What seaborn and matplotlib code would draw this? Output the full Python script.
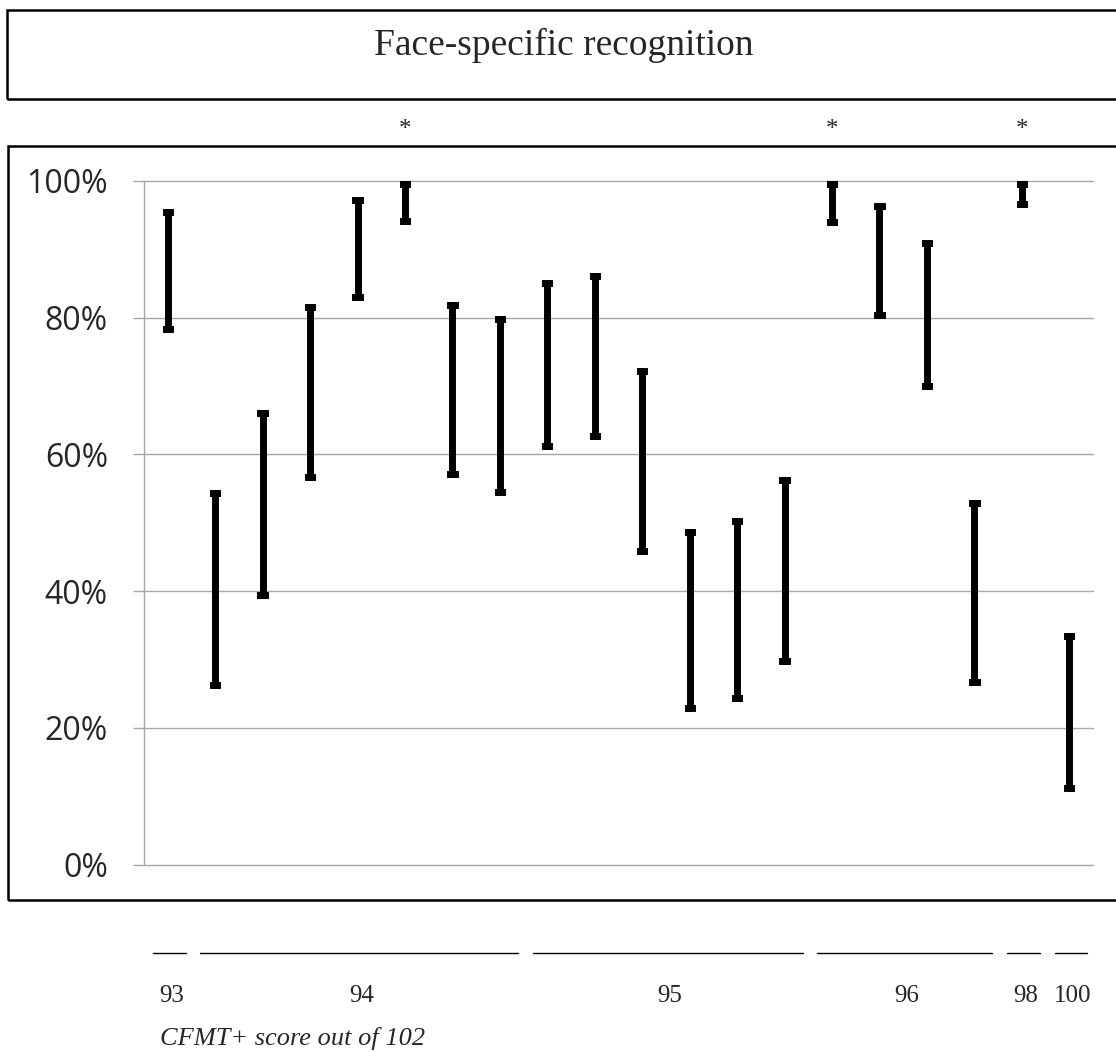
import numpy as np
import pandas as pd
import matplotlib
matplotlib.use("Agg")
import matplotlib.pyplot as plt
import matplotlib.transforms as mtransforms
from matplotlib.patches import Rectangle
import seaborn as sns

# ---------------- data ----------------
title = "Face-specific recognition"
bar_ids = [f"p{i}" for i in range(1, 21)]
low = [78.4, 26.2, 39.4, 56.7, 83.0, 94.1, 57.1, 54.5, 61.2, 62.7,
       45.9, 22.9, 24.3, 29.8, 94.0, 80.4, 70.0, 26.7, 96.6, 11.2]
high = [95.5, 54.3, 66.0, 81.5, 97.2, 99.6, 81.9, 79.8, 85.1, 86.1,
        72.2, 48.6, 50.2, 56.2, 99.5, 96.3, 91.0, 52.9, 99.5, 33.5]
group_labels = ["93", "94", "95", "96", "98", "100"]
group_sizes = [1, 7, 6, 4, 1, 1]
starred = [6, 15, 19]          # 1-based bar numbers marked with *
ytick_values = [0, 20, 40, 60, 80, 100]
ytick_labels = ["0%", "20%", "40%", "60%", "80%", "100%"]
x_title = "CFMT+ score out of 102"

# ---------------- layout ----------------
W, H = 1116, 1052
GRID = "#a6a6a6"
SERIF = "Liberation Serif"
SANS = "Open Sans"

sns.set_style("white")
plt.rcParams["font.family"] = ["DejaVu Sans"]

fig = plt.figure(figsize=(W / 100, H / 100), dpi=100)
ax = fig.add_axes([144 / W, 1 - 864.5 / H, (1093 - 144) / W, (864.5 - 181) / H])

df = pd.DataFrame({"bar": bar_ids * 2, "value": low + high})
sns.pointplot(data=df, x="bar", y="value", order=bar_ids,
              estimator="mean", errorbar=("pi", 100), capsize=0.09,
              color="black", linestyle="none", marker="",
              err_kws={"color": "black", "linewidth": 5, "clip_on": False,
                       "solid_capstyle": "projecting"},
              ax=ax)

ax.set_xlim(-0.5, len(bar_ids) - 0.5)
ax.set_ylim(0, 100)
ax.set_yticks(ytick_values)
ax.set_yticklabels(ytick_labels, fontfamily=SANS, fontsize=23)
ax.tick_params(axis="y", left=True, length=8, width=1, color=GRID, pad=18)
ax.tick_params(axis="x", bottom=False, labelbottom=False)
ax.set_xlabel("")
ax.set_ylabel("")
ax.grid(axis="y", color=GRID, lw=1)
ax.grid(axis="x", visible=False)
ax.set_axisbelow(True)
for gl in ax.get_ygridlines():
    gl.set_clip_on(False)
for s in ["top", "right", "bottom"]:
    ax.spines[s].set_visible(False)
ax.spines["left"].set_color(GRID)
ax.spines["left"].set_linewidth(1)

# frames
fig.patches.append(Rectangle((6.7 / W, 1 - 99 / H), 1.2, 89 / H,
                             transform=fig.transFigure, fill=False,
                             lw=1.8, ec="black"))
fig.patches.append(Rectangle((8.3 / W, 1 - 900 / H), 1.2, (900 - 146) / H,
                             transform=fig.transFigure, fill=False,
                             lw=1.8, ec="black"))

# title
fig.text(564 / W, 1 - 55 / H, title, ha="center", va="baseline",
         family=SERIF, fontsize=27)

# significance stars
for b in starred:
    ax.annotate("*", xy=(b - 1, 1 - 136 / H), xycoords=("data", "figure fraction"),
                ha="center", va="baseline", family=SERIF, fontsize=18,
                annotation_clip=False)

# grouped category axis
blend = mtransforms.blended_transform_factory(ax.transData, fig.transFigure)
start = 0
for lab, n in zip(group_labels, group_sizes):
    first, last = start, start + n - 1
    ax.plot([first - 0.31, last + 0.38], [1 - 953 / H] * 2, color="black",
            lw=1, transform=blend, clip_on=False)
    ax.text((first + last) / 2 + 0.08, 1 - 1002 / H, lab, transform=blend,
            ha="center", va="baseline", family=SERIF, fontsize=18)
    start += n

fig.text(160 / W, 1 - 1045 / H, x_title, ha="left", va="baseline",
         family=SERIF, style="italic", fontsize=19)

fig.savefig("out.png", dpi=100)
